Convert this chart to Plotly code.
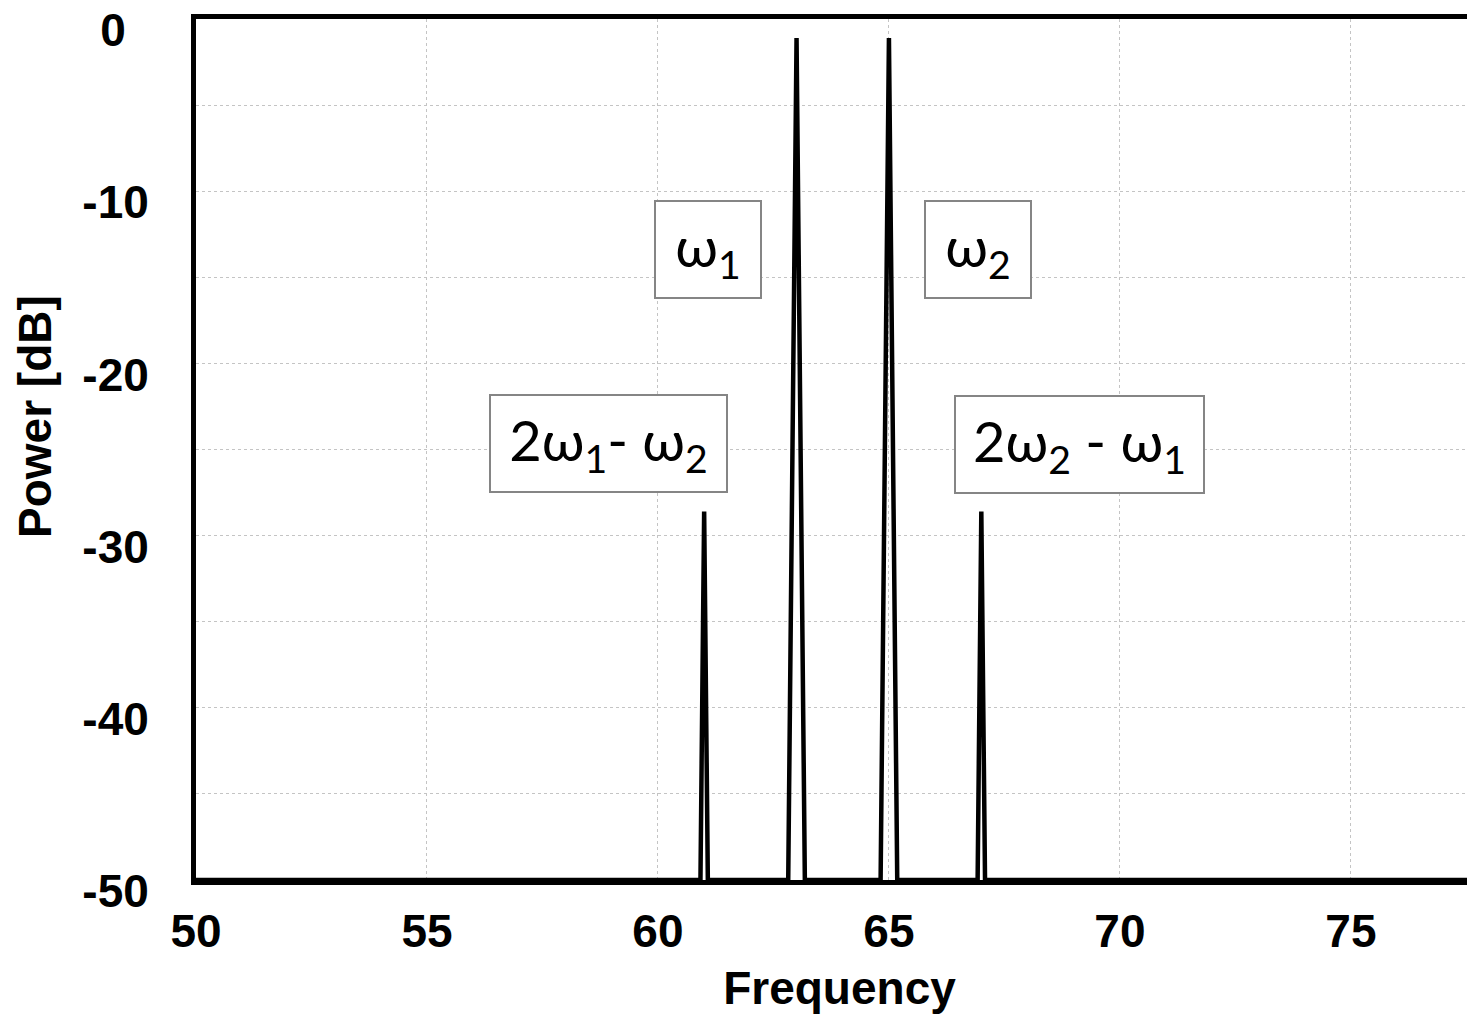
import plotly.graph_objects as go

# Spectrum data (frequency, power in dB)
freq = [50.0, 60.92, 61.0, 61.08, 62.82, 63.0, 63.18, 64.82, 65.0, 65.18, 66.92, 67.0, 67.08, 78.0]
power = [-50, -50, -28.6, -50, -50, -1.1, -50, -50, -1.1, -50, -50, -28.6, -50, -50]

x_ticks = [50, 55, 60, 65, 70, 75]
y_ticks = [0, -10, -20, -30, -40, -50]
y_ticktext = ["0\u2002", "-10", "-20", "-30", "-40", "-50"]

# Label boxes: text, center x, center y, box width, box height
labels = ["ω<sub>1</sub>", "ω<sub>2</sub>", "2ω<sub>1</sub>- ω<sub>2</sub>", "2ω<sub>2</sub> - ω<sub>1</sub>"]
label_x = [61.08, 66.93, 58.92, 69.12]
label_y = [-13.37, -13.37, -24.68, -24.7]
label_w = [104, 104, 235, 247]
label_h = [95, 95, 95, 95]

fig = go.Figure()
fig.add_trace(go.Scatter(x=freq, y=power, mode="lines",
                         line=dict(color="black", width=4.5),
                         showlegend=False, hoverinfo="skip"))

tick_font = dict(family="Liberation Sans, Arial", size=46, color="black", weight="bold")

for t, x, y, w, h in zip(labels, label_x, label_y, label_w, label_h):
    fig.add_annotation(x=x, y=y, xref="x", yref="y", text=t, showarrow=False,
                       xanchor="center", yanchor="middle", width=w, height=h,
                       align="center", valign="middle",
                       bgcolor="white", bordercolor="#858585", borderwidth=2, borderpad=0,
                       font=dict(family="Lato, Carlito, sans-serif", size=56, color="black"))

# page has an 8px body margin: figure sits at (8, 8); plot runs past the right edge
OFF = 8
W, H = 1475, 1014 - OFF
M_L, M_R, M_T, M_B = 196 - OFF, 0, 19 - OFF, 134
plot_w = W - M_L - M_R
plot_h = H - M_T - M_B

# y axis title as rotated text (page pixel position converted to paper coords)
title_px_x, title_px_y = 35 - OFF, 417 - OFF
fig.add_annotation(x=(title_px_x - M_L) / plot_w, y=1 - (title_px_y - M_T) / plot_h,
                   xref="paper", yref="paper", text="<b>Power [dB]</b>",
                   showarrow=False, textangle=-90, xanchor="center", yanchor="middle",
                   font=dict(family="Liberation Sans, Arial", size=46, color="black"))

fig.update_layout(
    width=W, height=H,
    margin=dict(l=M_L, r=M_R, t=M_T, b=M_B, autoexpand=False),
    plot_bgcolor="white", paper_bgcolor="white",
    xaxis=dict(range=[50, 77.86], tickvals=x_ticks, ticktext=[str(v) for v in x_ticks],
               automargin=False,
               showline=True, linecolor="black", linewidth=5, mirror=True,
               showgrid=True, gridcolor="#c4c4c4", gridwidth=1, griddash="dot",
               zeroline=False, ticks="", tickfont=tick_font, ticklabelstandoff=7,
               title=dict(text="<b>Frequency</b>", standoff=17,
                          font=dict(family="Liberation Sans, Arial", size=46, color="black"))),
    yaxis=dict(range=[-50, 0], tickvals=y_ticks, ticktext=y_ticktext,
               automargin=False,
               showline=True, linecolor="black", linewidth=5, mirror=False,
               showgrid=True, gridcolor="#c4c4c4", gridwidth=1, griddash="dot",
               minor=dict(dtick=5, showgrid=True, gridcolor="#c4c4c4", gridwidth=1, griddash="dot"),
               zeroline=False, ticks="", tickfont=tick_font, ticklabelstandoff=33,
               ticklabelshift=11, ticklabeloverflow="allow"),
)

fig.write_html("out.html")
